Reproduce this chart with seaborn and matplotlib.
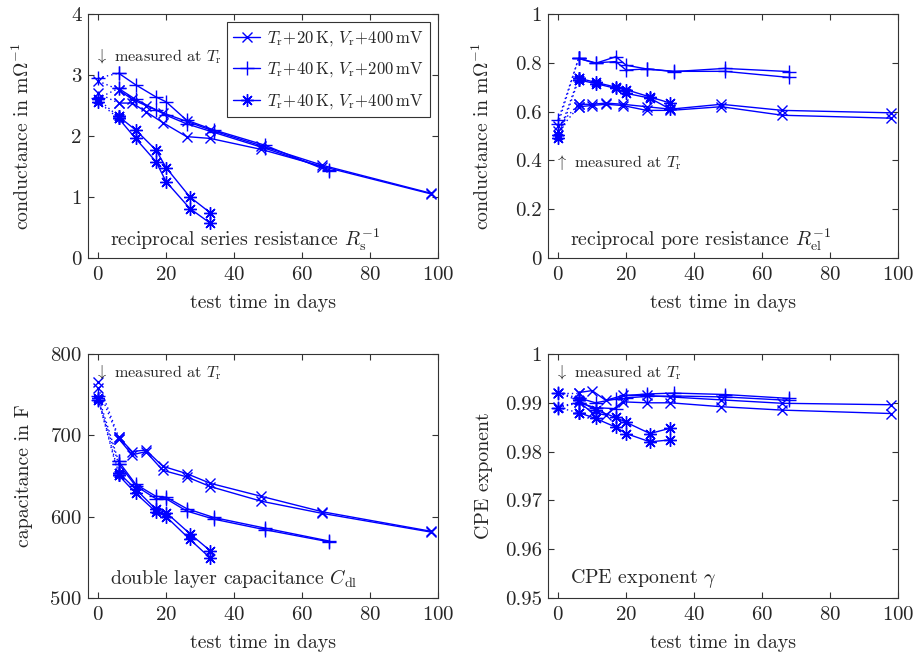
import numpy as np
import pandas as pd
import matplotlib
matplotlib.use("Agg")
import matplotlib.pyplot as plt
from matplotlib.lines import Line2D
from matplotlib.ticker import FuncFormatter
import seaborn as sns

# test days per ageing condition (day 0 = measured at T_r)
days_a = [0, 6, 10, 14, 19, 26, 33, 48, 66, 98]
days_b = [0, 6, 11, 17, 20, 26, 34, 49, 68]
days_c = [0, 6, 11, 17, 20, 27, 33]

# reciprocal series resistance (mOhm^-1)
rs_a1 = [2.90, 2.76, 2.60, 2.50, 2.38, 2.24, 2.10, 1.84, 1.52, 1.06]
rs_a2 = [2.70, 2.54, 2.54, 2.40, 2.22, 1.99, 1.96, 1.78, 1.50, 1.05]
rs_b1 = [2.95, 3.03, 2.84, 2.64, 2.56, 2.26, 2.10, 1.85, 1.42]
rs_b2 = [2.62, 2.78, 2.60, 2.43, 2.34, 2.20, 2.06, 1.80, 1.45]
rs_c1 = [2.60, 2.32, 2.10, 1.77, 1.48, 1.00, 0.74]
rs_c2 = [2.56, 2.29, 1.96, 1.58, 1.25, 0.81, 0.57]

# reciprocal pore resistance (mOhm^-1)
rel_a1 = [0.54, 0.630, 0.630, 0.635, 0.630, 0.620, 0.610, 0.630, 0.605, 0.595]
rel_a2 = [0.52, 0.620, 0.625, 0.630, 0.625, 0.605, 0.605, 0.620, 0.585, 0.573]
rel_b1 = [0.565, 0.818, 0.798, 0.825, 0.790, 0.775, 0.764, 0.777, 0.764]
rel_b2 = [0.550, 0.818, 0.800, 0.805, 0.770, 0.775, 0.765, 0.765, 0.740]
rel_c1 = [0.505, 0.737, 0.720, 0.700, 0.690, 0.660, 0.635]
rel_c2 = [0.490, 0.730, 0.715, 0.695, 0.675, 0.655, 0.610]

# double layer capacitance (F)
cdl_a1 = [765, 698, 680, 682, 662, 653, 641, 625, 606, 582]
cdl_a2 = [758, 696, 676, 680, 657, 649, 637, 619, 604, 581]
cdl_b1 = [748, 668, 640, 625, 624, 610, 599, 586, 570]
cdl_b2 = [744, 665, 638, 622, 622, 607, 597, 584, 569]
cdl_c1 = [746, 654, 634, 609, 605, 579, 558]
cdl_c2 = [744, 651, 629, 606, 600, 572, 549]

# CPE exponent
cpe_a1 = [0.9921, 0.9921, 0.9925, 0.9905, 0.9915, 0.9915, 0.9912, 0.9906, 0.9899, 0.9896]
cpe_a2 = [0.9891, 0.9902, 0.9880, 0.9875, 0.9902, 0.9900, 0.9900, 0.9892, 0.9885, 0.9878]
cpe_b1 = [0.9920, 0.9910, 0.9900, 0.9908, 0.9915, 0.9918, 0.9920, 0.9917, 0.9909]
cpe_b2 = [0.9890, 0.9900, 0.9890, 0.9888, 0.9910, 0.9913, 0.9914, 0.9912, 0.9905]
cpe_c1 = [0.9920, 0.9905, 0.9885, 0.9870, 0.9860, 0.9837, 0.9848]
cpe_c2 = [0.9890, 0.9880, 0.9868, 0.9850, 0.9837, 0.9820, 0.9824]

cond_labels = [
    r"$T_\mathrm{r}\!+\!20\,\mathrm{K}$, $V_\mathrm{r}\!+\!400\,\mathrm{mV}$",
    r"$T_\mathrm{r}\!+\!40\,\mathrm{K}$, $V_\mathrm{r}\!+\!200\,\mathrm{mV}$",
    r"$T_\mathrm{r}\!+\!40\,\mathrm{K}$, $V_\mathrm{r}\!+\!400\,\mathrm{mV}$",
]
ASTERISK = (8, 2, 0)
markers = ["x", "+", ASTERISK]
msizes = [7.5, 10, 9]
BLUE = "#0000ff"
EDGE = "#333333"

sns.set_style("ticks")
plt.rcParams["font.family"] = ["cmr10", "DejaVu Serif"]
plt.rcParams["mathtext.fontset"] = "cm"
plt.rcParams["axes.unicode_minus"] = False
plt.rcParams["axes.formatter.use_mathtext"] = True

fig = plt.figure(figsize=(9.14, 6.62), dpi=100)
W, H = 914, 662
def pos(l, t, r, b):
    return [l / W, 1 - b / H, (r - l) / W, (b - t) / H]

ax_rs = fig.add_axes(pos(88, 14, 438, 258))
ax_rel = fig.add_axes(pos(548, 14, 898, 258))
ax_cdl = fig.add_axes(pos(88, 354, 438, 598))
ax_cpe = fig.add_axes(pos(548, 354, 898, 598))

panels = [
    (ax_rs, [(rs_a1, rs_a2), (rs_b1, rs_b2), (rs_c1, rs_c2)]),
    (ax_rel, [(rel_a1, rel_a2), (rel_b1, rel_b2), (rel_c1, rel_c2)]),
    (ax_cdl, [(cdl_a1, cdl_a2), (cdl_b1, cdl_b2), (cdl_c1, cdl_c2)]),
    (ax_cpe, [(cpe_a1, cpe_a2), (cpe_b1, cpe_b2), (cpe_c1, cpe_c2)]),
]
all_days = [days_a, days_b, days_c]

for ax, series in panels:
    for k, (cells, days) in enumerate(zip(series, all_days)):
        for vals in cells:
            mk = dict(marker=markers[k], markersize=msizes[k], markeredgewidth=1.0,
                      markeredgecolor=BLUE, markerfacecolor=BLUE)
            # first segment: day 0 at room temperature -> dotted
            sns.lineplot(x=days[:2], y=vals[:2], ax=ax, color=BLUE, lw=1.0,
                         linestyle=(0, (1, 2.2)), **mk)
            sns.lineplot(x=days[1:], y=vals[1:], ax=ax, color=BLUE, lw=1.0, **mk)

fmt = FuncFormatter(lambda v, p: "%g" % round(v, 4))
for ax in [ax_rs, ax_rel, ax_cdl, ax_cpe]:
    ax.set_xlim(-3, 100)
    ax.set_xticks([0, 20, 40, 60, 80, 100])
    ax.set_xlabel("test time in days", fontsize=14.3, labelpad=7)
    ax.tick_params(direction="in", top=True, right=True, length=4, width=0.8,
                   labelsize=15, color=EDGE)
    ax.tick_params(axis="x", pad=6)
    ax.tick_params(axis="y", pad=4.5)
    ax.yaxis.set_major_formatter(fmt)
    for sp in ax.spines.values():
        sp.set_visible(True)
        sp.set_linewidth(0.8)
        sp.set_color(EDGE)

ax_rs.set_ylim(0, 4)
ax_rs.set_yticks([0, 1, 2, 3, 4])
ax_rs.set_ylabel(r"conductance in m$\Omega^{-1}$", fontsize=14.3)
ax_rel.set_ylim(0, 1)
ax_rel.set_yticks([0, 0.2, 0.4, 0.6, 0.8, 1])
ax_rel.set_ylabel(r"conductance in m$\Omega^{-1}$", fontsize=14.3)
ax_cdl.set_ylim(500, 800)
ax_cdl.set_yticks([500, 600, 700, 800])
ax_cdl.set_ylabel("capacitance in F", fontsize=14.3)
ax_cpe.set_ylim(0.95, 1)
ax_cpe.set_yticks([0.95, 0.96, 0.97, 0.98, 0.99, 1])
ax_cpe.set_ylabel("CPE exponent", fontsize=14.3)
for ax in [ax_rs, ax_rel, ax_cdl, ax_cpe]:
    ax.yaxis.set_label_coords(-0.158, 0.5)

# panel descriptions
ax_rs.text(0.063, 0.075, r"reciprocal series resistance $R_\mathrm{s}^{-1}$",
           transform=ax_rs.transAxes, fontsize=14.3, va="center")
ax_rel.text(0.063, 0.075, r"reciprocal pore resistance $R_\mathrm{el}^{-1}$",
            transform=ax_rel.transAxes, fontsize=14.3, va="center")
ax_cdl.text(0.063, 0.08, r"double layer capacitance $C_\mathrm{dl}$",
            transform=ax_cdl.transAxes, fontsize=14.3, va="center")
ax_cpe.text(0.063, 0.08, r"CPE exponent $\gamma$",
            transform=ax_cpe.transAxes, fontsize=14.3, va="center")

# room temperature notes
note_dn = r"$\downarrow$ measured at $T_\mathrm{r}$"
note_up = r"$\uparrow$ measured at $T_\mathrm{r}$"
ax_rs.text(0.02, 0.824, note_dn, transform=ax_rs.transAxes, fontsize=11.7, va="center")
ax_rel.text(0.02, 0.393, note_up, transform=ax_rel.transAxes, fontsize=11.7, va="center")
ax_cdl.text(0.02, 0.922, note_dn, transform=ax_cdl.transAxes, fontsize=11.7, va="center")
ax_cpe.text(0.02, 0.922, note_dn, transform=ax_cpe.transAxes, fontsize=11.7, va="center")

handles = [Line2D([], [], color=BLUE, lw=1.0, marker=markers[k], markersize=msizes[k],
                  markeredgecolor=BLUE, markerfacecolor=BLUE, markeredgewidth=1.0)
           for k in range(3)]
leg = ax_rs.legend(handles, cond_labels, loc="upper right", fontsize=12,
                   frameon=True, fancybox=False, framealpha=1, edgecolor=EDGE,
                   handlelength=1.6, handletextpad=0.4, borderpad=0.4,
                   borderaxespad=0.5, labelspacing=0.75)
leg.get_frame().set_linewidth(0.8)

fig.savefig("out.png", dpi=100)
